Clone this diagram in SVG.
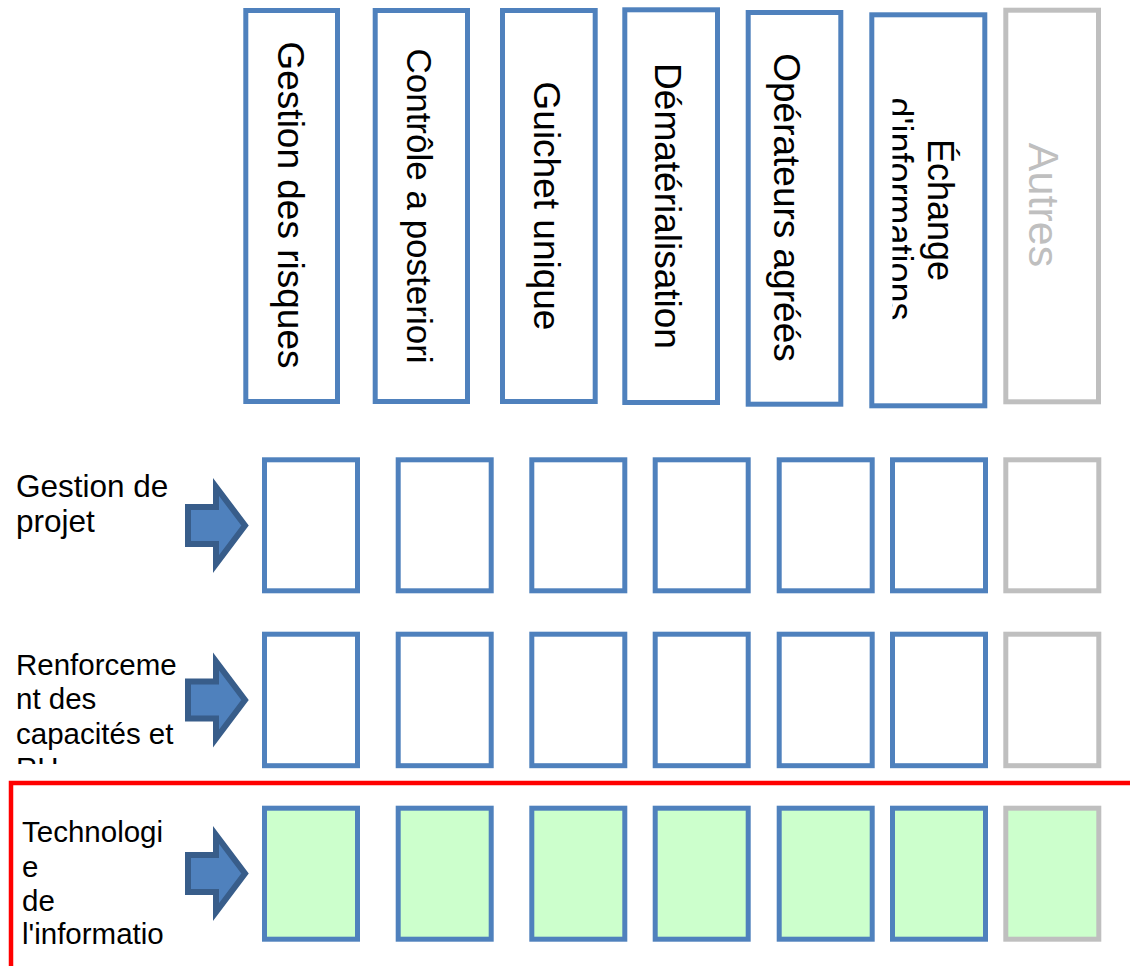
<svg xmlns="http://www.w3.org/2000/svg" width="1130" height="966" viewBox="0 0 1130 966">
<style>
text{font-family:"Liberation Sans",Arial,sans-serif;fill:#000}
.hb{fill:#fff;stroke:#4f81bd;stroke-width:5}
.hg{fill:#fff;stroke:#bfbfbf;stroke-width:5}
.cb{fill:#fff;stroke:#4f81bd;stroke-width:5}
.cg{fill:#fff;stroke:#bfbfbf;stroke-width:5}
.gb{fill:#ccffcc;stroke:#4f81bd;stroke-width:5}
.gg{fill:#ccffcc;stroke:#bfbfbf;stroke-width:5}
.arr{fill:#4f81bd;stroke:#385d8a;stroke-width:6;stroke-linejoin:miter;stroke-miterlimit:10}
.lbl{font-size:29.5px}
</style>
<defs>
<path id="blockArrow" d="M188,-18.5 H216 V-38.5 L245,0 L216,38.5 V18.5 H188 Z"/>
<clipPath id="clipEch"><rect x="892.5" y="14" width="95" height="394"/></clipPath>
<clipPath id="clipRH"><rect x="0" y="620" width="200" height="144"/></clipPath>
</defs>

<g id="frame-red">
<path d="M11,966 V783 H1130" fill="none" stroke="#ff0000" stroke-width="4.5"/>
</g>

<g id="header-gestion-risques">
<rect class="hb" x="245.8" y="10.5" width="91.7" height="391"/>
<text font-size="37" text-anchor="middle" transform="translate(277.5,205) rotate(90)">Gestion des risques</text>
</g>
<g id="header-controle">
<rect class="hb" x="375.2" y="10.5" width="92.3" height="391"/>
<text font-size="35" text-anchor="middle" transform="translate(407,206) rotate(90)">Contrôle a posteriori</text>
</g>
<g id="header-guichet">
<rect class="hb" x="502.5" y="10.5" width="92.7" height="391"/>
<text font-size="37" text-anchor="middle" transform="translate(534,206) rotate(90)">Guichet unique</text>
</g>
<g id="header-demat">
<rect class="hb" x="624.8" y="9.8" width="92.7" height="392.7"/>
<text font-size="37" text-anchor="middle" transform="translate(655,206) rotate(90)">Dématérialisation</text>
</g>
<g id="header-operateurs">
<rect class="hb" x="748.2" y="12.5" width="92.6" height="391.7"/>
<text font-size="37" text-anchor="middle" transform="translate(774,207.5) rotate(90)">Opérateurs agréés</text>
</g>
<g id="header-echange">
<rect class="hb" x="871.8" y="14.8" width="113" height="391"/>
<text font-size="36" text-anchor="middle" transform="translate(928,210) rotate(90)">Échange</text>
<g clip-path="url(#clipEch)">
<text font-size="36" text-anchor="middle" transform="translate(887,209) rotate(90)">d'informations</text>
</g>
</g>
<g id="header-autres">
<rect class="hg" x="1005.8" y="10.2" width="92.7" height="391.6"/>
<text font-size="43" text-anchor="middle" style="fill:#bfbfbf" transform="translate(1029,205) rotate(90)">Autres</text>
</g>

<g id="label-gestion-projet">
<text font-size="31.5" x="16" y="497">Gestion de</text>
<text font-size="31.5" x="16" y="532">projet</text>
</g>
<g id="label-renforcement">
<g clip-path="url(#clipRH)">
<text class="lbl" x="16" y="675">Renforceme</text>
<text class="lbl" x="16" y="709">nt des</text>
<text class="lbl" x="16" y="743.5">capacités et</text>
<text class="lbl" x="16" y="778">RH</text>
</g>
</g>
<g id="label-technologie">
<text class="lbl" x="22" y="842">Technologi</text>
<text class="lbl" x="22" y="876.5">e</text>
<text class="lbl" x="22" y="910.5">de</text>
<text class="lbl" x="22" y="944">l'informatio</text>
</g>

<g id="connectors">
<use href="#blockArrow" class="arr" transform="translate(0,525.5)"/>
<use href="#blockArrow" class="arr" transform="translate(0,700)"/>
<use href="#blockArrow" class="arr" transform="translate(0,873.5)"/>
</g>

<g id="row1">
<rect id="r1c1" class="cb" x="264.5" y="459.8" width="93" height="131"/>
<rect id="r1c2" class="cb" x="398.2" y="459.8" width="93" height="131"/>
<rect id="r1c3" class="cb" x="531.8" y="459.8" width="93" height="131"/>
<rect id="r1c4" class="cb" x="655.2" y="459.8" width="93" height="131"/>
<rect id="r1c5" class="cb" x="779.2" y="459.8" width="93" height="131"/>
<rect id="r1c6" class="cb" x="892.5" y="459.8" width="93" height="131"/>
<rect id="r1c7" class="cg" x="1005.8" y="459.8" width="93" height="131"/>
</g>
<g id="row2">
<rect id="r2c1" class="cb" x="264.5" y="634.2" width="93" height="131.5"/>
<rect id="r2c2" class="cb" x="398.2" y="634.2" width="93" height="131.5"/>
<rect id="r2c3" class="cb" x="531.8" y="634.2" width="93" height="131.5"/>
<rect id="r2c4" class="cb" x="655.2" y="634.2" width="93" height="131.5"/>
<rect id="r2c5" class="cb" x="779.2" y="634.2" width="93" height="131.5"/>
<rect id="r2c6" class="cb" x="892.5" y="634.2" width="93" height="131.5"/>
<rect id="r2c7" class="cg" x="1005.8" y="634.2" width="93" height="131.5"/>
</g>
<g id="row3">
<rect id="r3c1" class="gb" x="264.5" y="808.2" width="93" height="131"/>
<rect id="r3c2" class="gb" x="398.2" y="808.2" width="93" height="131"/>
<rect id="r3c3" class="gb" x="531.8" y="808.2" width="93" height="131"/>
<rect id="r3c4" class="gb" x="655.2" y="808.2" width="93" height="131"/>
<rect id="r3c5" class="gb" x="779.2" y="808.2" width="93" height="131"/>
<rect id="r3c6" class="gb" x="892.5" y="808.2" width="93" height="131"/>
<rect id="r3c7" class="gg" x="1005.8" y="808.2" width="93" height="131"/>
</g>
</svg>
